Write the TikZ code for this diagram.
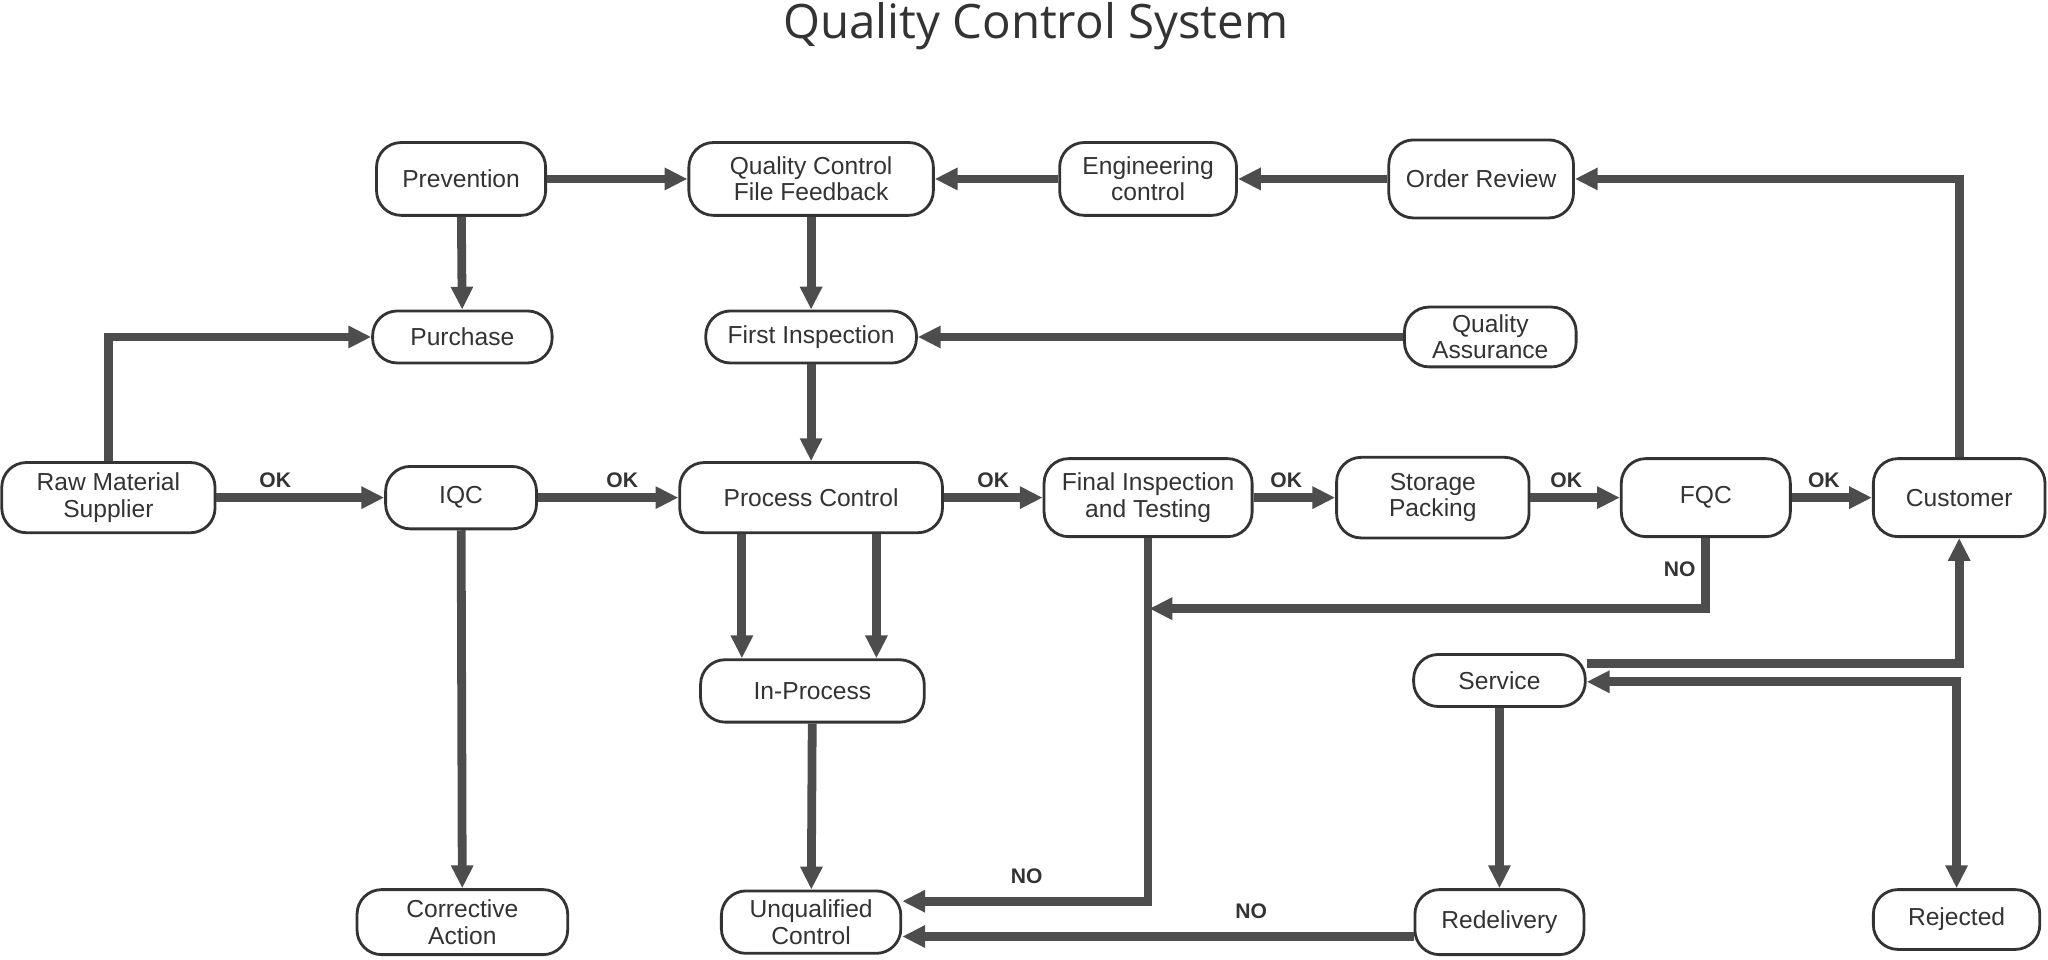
\documentclass[tikz,border=0pt]{standalone}
\usepackage{fontspec}
\setmainfont{Liberation Sans}
\newfontfamily\titlefont{Open Sans}
\usetikzlibrary{arrows.meta}
\definecolor{flow}{HTML}{4D4D4D}
\definecolor{ink}{HTML}{333333}
\tikzset{
  box/.style 2 args={draw=ink, line width=1.6pt, rounded corners=14pt, align=center,
    font=\fontsize{14}{15}\selectfont, text=ink, inner sep=1pt,
    minimum width={#1*0.74pt}, minimum height={#2*0.74pt}},
  flow/.style={draw=flow, line width=5pt, -{Triangle[length=13pt,width=12pt]}},
  lbl/.style={font=\bfseries\fontsize{12}{12}\selectfont, text=ink}
}
\begin{document}
\begin{tikzpicture}[x=0.02612cm, y=-0.02612cm]
  \useasboundingbox (0,0) rectangle (1568,735);
  \node[font=\titlefont\fontsize{27}{30}\selectfont, text=ink] (title) at (793,20) {Quality Control System};
  % top row
  \node[box={130}{56}] (prev) at (353,137) {Prevention};
  \node[box={188}{56}] (qcff) at (621,137) {Quality Control\\File Feedback};
  \node[box={136}{56}] (eng)  at (879,137) {Engineering\\control};
  \node[box={142}{60}] (ordr) at (1134,137) {Order Review};
  % second row
  \node[box={138}{40}] (purch) at (354,258) {Purchase};
  \node[box={162}{40}] (first) at (621,258) {First Inspection};
  \node[box={132}{46}] (qa)    at (1141,258) {Quality\\Assurance};
  % main row
  \node[box={164}{54}] (raw)  at (83,381)   {Raw Material\\Supplier};
  \node[box={116}{48}] (iqc)  at (353,381)  {IQC};
  \node[box={202}{54}] (proc) at (621,381)  {Process Control};
  \node[box={160}{60}] (fin)  at (879,381)  {Final Inspection\\and Testing};
  \node[box={148}{62}] (stor) at (1097,381) {Storage\\Packing};
  \node[box={130}{60}] (fqc)  at (1306,381) {FQC};
  \node[box={132}{60}] (cust) at (1500,381) {Customer};
  % lower rows
  \node[box={172}{48}] (inp)  at (622,529)  {In-Process};
  \node[box={132}{40}] (serv) at (1148,521) {Service};
  \node[box={162}{50}] (corr) at (354,706)  {Corrective\\Action};
  \node[box={138}{48}] (unq)  at (621,706)  {Unqualified\\Control};
  \node[box={130}{50}] (redl) at (1148,706) {Redelivery};
  \node[box={128}{46}] (rej)  at (1498,704) {Rejected};
  % connectors
  \draw[flow] (prev) -- (qcff);
  \draw[flow] (eng) -- (qcff);
  \draw[flow] (ordr) -- (eng);
  \draw[flow] (cust.north) |- (ordr.east);
  \draw[flow] (prev) -- (purch);
  \draw[flow] (qcff) -- (first);
  \draw[flow] (qa) -- (first);
  \draw[flow] (raw.north) |- (purch.west);
  \draw[flow] (first) -- (proc);
  \draw[flow] (raw) -- node[lbl, above, pos=0.35] {OK} (iqc);
  \draw[flow] (iqc) -- node[lbl, above, pos=0.6] {OK} (proc);
  \draw[flow] (proc) -- node[lbl, above, pos=0.5] {OK} (fin);
  \draw[flow] (fin) -- node[lbl, above, pos=0.4] {OK} (stor);
  \draw[flow] (stor) -- node[lbl, above, pos=0.4] {OK} (fqc);
  \draw[flow] (fqc) -- node[lbl, above, pos=0.4] {OK} (cust);
  \draw[flow] (iqc) -- (corr);
  \draw[flow] (proc.south -| 568,0) -- (inp.north -| 568,0);
  \draw[flow] (proc.south -| 671,0) -- (inp.north -| 671,0);
  \draw[flow] (inp) -- (unq);
  \draw[flow] (fin.south) |- (unq.east |- 0,690);
  \node[lbl] (no1) at (786,671) {NO};
  \draw[flow] (fqc.south) |- (880,466);
  \node[lbl] (no2) at (1286,436) {NO};
  \draw[flow] (serv.east |- 0,508) -| (cust.south);
  \draw[flow, {Triangle[length=13pt,width=12pt]}-{Triangle[length=13pt,width=12pt]}] (serv.east |- 0,522) -| (rej.north);
  \draw[flow] (serv) -- (redl);
  \draw[flow] (redl.west |- 0,717) -- (unq.east |- 0,717);
  \node[lbl] (no3) at (958,698) {NO};
\end{tikzpicture}
\end{document}
